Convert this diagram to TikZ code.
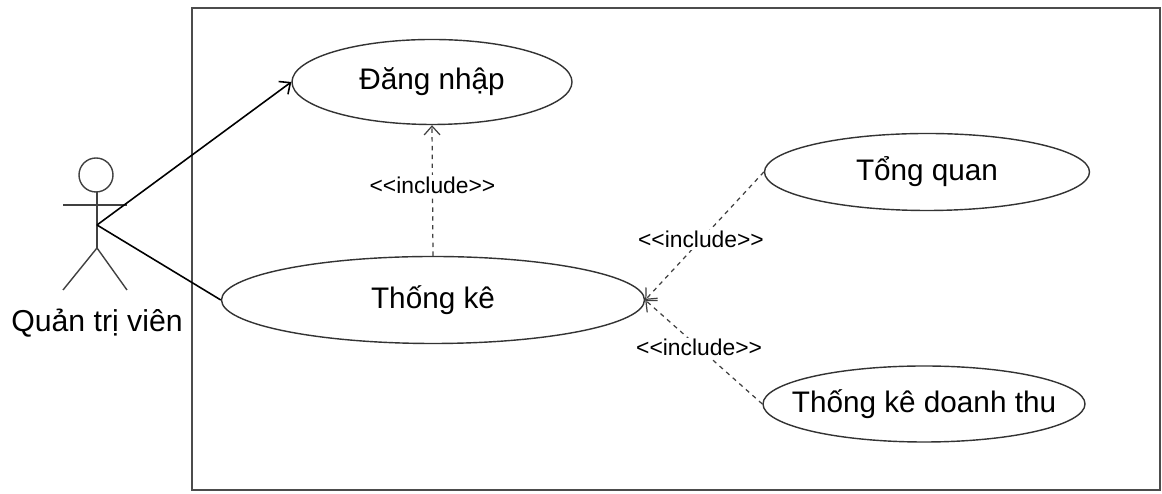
\documentclass[tikz,border=0pt]{standalone}
\usepackage{fontspec}
\setmainfont{Liberation Sans}
\usetikzlibrary{arrows.meta,shapes.geometric,calc}

\begin{document}
\begin{tikzpicture}[usecase/.style={ellipse, draw=black!80, line width=0.8pt, fill=white, inner sep=0pt,
            font=\fontsize{16.9}{19}\selectfont},
            incl/.style={fill=white, anchor=center, inner sep=1pt, font=\fontsize{13}{15}\selectfont},
            inclline/.style={->, line width=0.7pt, draw=black!75, dash pattern=on 2.5pt off 2.5pt},
            >={Straight Barb[length=5pt,width=9pt]}]
            \useasboundingbox (0,0) rectangle (23.24,9.88);
            \draw[line width=1.1pt, draw=black!70, fill=white] (3.84,0.08) rectangle (23.2,9.72);

            % actor
            \draw[line width=0.8pt, draw=black!75] (1.92,6.38) circle (0.34);
            \draw[line width=0.8pt, draw=black!75] (1.94,6.04) -- (1.94,4.92);
            \draw[line width=0.8pt, draw=black!75] (1.26,5.78) -- (2.54,5.78);
            \draw[line width=0.8pt, draw=black!75] (1.26,4.08) -- (1.94,4.92) -- (2.54,4.08);
            \coordinate (act) at (1.94,5.38);
            \node[font=\fontsize{17.2}{19}\selectfont] (qtv) at (1.94,3.42) {Quản trị viên};

            \node[usecase, minimum width=5.6cm, minimum height=1.7cm] (dn) at (8.64,8.24) {Đăng nhập};
            \node[usecase, minimum width=8.46cm, minimum height=1.74cm] (tk) at (8.66,3.88) {Thống kê};
            \node[usecase, minimum width=6.5cm, minimum height=1.54cm] (tq) at (18.54,6.44) {Tổng quan};
            \node[usecase, inner xsep=-0.6cm, minimum width=6.44cm, minimum height=1.52cm] (tkdt) at (18.48,1.8) {Thống kê doanh thu};

            \draw[->, line width=0.9pt] (act) -- (dn.west);
            \draw[line width=0.9pt] (act) -- (tk.west);

            \draw[inclline] (tk.north) -- node[incl, pos=0.54]{<{}<include>{}>} (dn.south);
            \draw[inclline] (tq.west) -- node[incl, pos=0.53]{<{}<include>{}>} (tk.east);
            \draw[inclline] (tkdt.west) -- node[incl, pos=0.54]{<{}<include>{}>} (tk.east);

        \end{tikzpicture}
\end{document}
